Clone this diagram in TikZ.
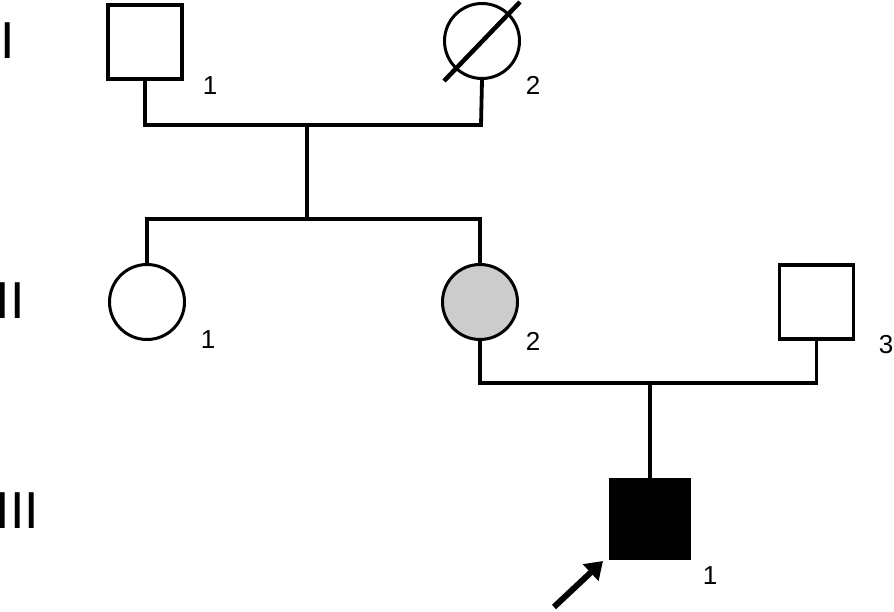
\documentclass[tikz,border=0pt]{standalone}
\usepackage{fontspec}
\setmainfont{Liberation Sans}
\usetikzlibrary{arrows.meta}
\definecolor{carrier}{HTML}{CCCCCC}
\tikzset{
  male/.style={draw, rectangle, line width=3.5pt, minimum size=74pt, inner sep=0pt},
  female/.style={draw, circle, line width=3pt, minimum size=75pt, inner sep=0pt},
  link/.style={line width=3.8pt},
  num/.style={inner sep=0pt, font=\fontsize{26}{26}\selectfont},
  gen/.style={inner sep=0pt, font=\fontsize{52}{52}\selectfont},
}
\begin{document}
\begin{tikzpicture}[x=1pt, y=-1pt]
\useasboundingbox (0,0) rectangle (894,612);
% generation labels
\node[gen] (gI) at (7.5,41) {I};
\node[gen] (gII) at (10,301) {II};
\node[gen] (gIII) at (17.5,511) {III};
% individuals
\node[male] (I1) at (145,42) {};
\node[female] (I2) at (482,41) {};
\node[female] (II1) at (147,302) {};
\node[female, fill=carrier] (II2) at (480,302) {};
\node[male] (II3) at (816.5,302) {};
\node[male, fill=black, minimum size=78pt] (III1) at (650,519) {};
% deceased slash
\coordinate (dA) at (444,81);
\coordinate (dB) at (520,2);
\draw[line width=4.5pt] (dA) -- (dB);
% numbers
\node[num] (nI1) at (210,86) {1};
\node[num] (nI2) at (533,85) {2};
\node[num] (nII1) at (208,340) {1};
\node[num] (nII2) at (533,341) {2};
\node[num] (nII3) at (886,345) {3};
\node[num] (nIII1) at (710,576) {1};
% mating line I
\coordinate (m1L) at (145,125);
\coordinate (m1R) at (481,125);
\coordinate (m1C) at (307,125);
\draw[link] (I1.south) -- (m1L) -- (m1R) -- (I2.south);
% sibship II
\coordinate (s1C) at (307,219);
\coordinate (s1L) at (147,219);
\coordinate (s1R) at (480,219);
\draw[link] (m1C) -- (s1C);
\draw[link] (II1.north) -- (s1L) -- (s1R) -- (II2.north);
% mating line II
\coordinate (m2L) at (480,383);
\coordinate (m2R) at (816.5,383);
\coordinate (m2C) at (650,383);
\draw[link] (II2.south) -- (m2L) -- (m2R) -- (II3.south);
\draw[link] (m2C) -- (III1.north);
% proband arrow
\coordinate (arrTail) at (554,607);
\coordinate (arrTip) at (603,561);
\draw[line width=6pt, -{Triangle[length=17pt,width=22pt]}] (arrTail) -- (arrTip);
\end{tikzpicture}
\end{document}
